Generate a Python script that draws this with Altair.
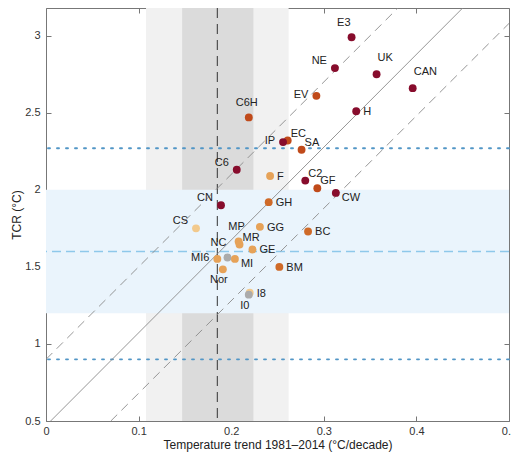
import altair as alt
import pandas as pd

# ---- data ----
names = ["E3", "NE", "UK", "CAN", "EV", "H", "C6H", "EC", "IP", "SA", "C6", "F",
         "C2", "GF", "CW", "CN", "GH", "CS", "GG", "BC", "MP", "MR", "GE", "MI6",
         "NC", "MI", "Nor", "BM", "I8", "I0"]
trend = [0.330, 0.312, 0.357, 0.396, 0.292, 0.335, 0.219, 0.261, 0.256, 0.276, 0.206, 0.242,
         0.280, 0.293, 0.313, 0.189, 0.2405, 0.162, 0.231, 0.283, 0.208, 0.209, 0.223, 0.185,
         0.196, 0.204, 0.191, 0.252, 0.220, 0.219]
tcr = [2.99, 2.79, 2.75, 2.66, 2.61, 2.51, 2.47, 2.32, 2.31, 2.26, 2.13, 2.09,
       2.06, 2.01, 1.98, 1.90, 1.92, 1.75, 1.76, 1.73, 1.665, 1.645, 1.613, 1.552,
       1.561, 1.552, 1.484, 1.50, 1.333, 1.32]
group = ["g1", "g1", "g1", "g1", "g2", "g1", "g2", "g2", "g1", "g2", "g1", "g4",
         "g1", "g2", "g1", "g1", "g3", "g5", "g4", "g3", "g4", "g4", "g4", "g4",
         "g0", "g4", "g4", "g3", "g5", "g0"]
anchor = ["tl", "ul", "tr", "tr", "l", "r", "t", "ur", "l", "ur", "ul", "r",
          "ur", "ur", "rb", "ul", "r", "ul", "r", "r", "t", "ur", "r", "l",
          "tl", "rb", "b", "r", "r", "b"]

group_domain = ["g1", "g2", "g3", "g4", "g5", "g0"]
group_colors = ["#870C2C", "#C04A1A", "#CF6A28", "#E6A258", "#F2C98C", "#ABABAB"]

x_ticks = [0, 0.1, 0.2, 0.3, 0.4, 0.5]
y_ticks = [0.5, 1, 1.5, 2, 2.5, 3]

obs_trend = [0.185]                     # observed trend (vertical dashed)
band_inner = [0.147, 0.224]             # darker grey band
band_outer = [0.108, 0.262]             # lighter grey band
tcr_likely = [1.2, 2.0]                 # blue shaded range
tcr_mid = [1.6]
tcr_dotted = [0.9, 2.27]

# reference lines: (name, dash, x0, y0, x1, y1)
ref_lines = [
    ("upper", "dash", 0.0, 0.90, 0.38, 3.18),
    ("mid", "solid", 0.005, 0.50, 0.45, 3.18),
    ("lower", "dash", 0.07, 0.50, 0.50, 3.08),
]

FONT = "Liberation Sans"
X_DOM = [0, 0.5]
Y_DOM = [0.5, 3.18]

pts = pd.DataFrame({"name": names, "trend": trend, "tcr": tcr,
                    "group": group, "anchor": anchor})

xs = alt.Scale(domain=X_DOM, nice=False, zero=False)
ys = alt.Scale(domain=Y_DOM, nice=False, zero=False)

outer = alt.Chart(pd.DataFrame({"a": [band_outer[0]], "b": [band_outer[1]]})).mark_rect(
    color="#F1F1F1").encode(x=alt.X("a:Q", scale=xs, axis=None), x2="b:Q")
inner = alt.Chart(pd.DataFrame({"a": [band_inner[0]], "b": [band_inner[1]]})).mark_rect(
    color="#DBDBDB").encode(x=alt.X("a:Q", scale=xs, axis=None), x2="b:Q")
blue = alt.Chart(pd.DataFrame({"a": [tcr_likely[0]], "b": [tcr_likely[1]]})).mark_rect(
    color="#EAF4FC").encode(y=alt.Y("a:Q", scale=ys, axis=None), y2="b:Q")
mid = alt.Chart(pd.DataFrame({"v": tcr_mid})).mark_rule(
    color="#8EC8EA", strokeDash=[9, 5], strokeWidth=1.3).encode(
    y=alt.Y("v:Q", scale=ys, axis=None))
dotted = alt.Chart(pd.DataFrame({"v": tcr_dotted})).mark_rule(
    color="#5296C6", strokeDash=[2, 7], strokeWidth=1.9, strokeCap="round").encode(
    y=alt.Y("v:Q", scale=ys, axis=None))
vline = alt.Chart(pd.DataFrame({"v": obs_trend})).mark_rule(
    color="#333333", strokeDash=[10, 6], strokeWidth=1).encode(
    x=alt.X("v:Q", scale=xs, axis=None))

rows = []
for nm, style, x0, y0, x1, y1 in ref_lines:
    rows.append({"line": nm, "style": style, "x": x0, "y": y0, "o": 0})
    rows.append({"line": nm, "style": style, "x": x1, "y": y1, "o": 1})
ldf = pd.DataFrame(rows)

tick_axis_top = alt.Axis(orient="top", offset=-5, tickSize=5, labels=False, domain=False,
                         grid=False, title=None, values=x_ticks, tickColor="#777777")
tick_axis_right = alt.Axis(orient="right", offset=-5, tickSize=5, labels=False, domain=False,
                           grid=False, title=None, values=y_ticks, tickColor="#777777")

dash_lines = alt.Chart(ldf[ldf["style"] == "dash"]).mark_line(
    color="#8A8A8A", strokeWidth=0.9, strokeDash=[9, 6], clip=True).encode(
    x=alt.X("x:Q", scale=xs, axis=tick_axis_top),
    y=alt.Y("y:Q", scale=ys, axis=tick_axis_right),
    detail="line:N", order="o:Q")
solid_line = alt.Chart(ldf[ldf["style"] == "solid"]).mark_line(
    color="#8A8A8A", strokeWidth=0.9, clip=True).encode(
    x=alt.X("x:Q", scale=xs, axis=None),
    y=alt.Y("y:Q", scale=ys, axis=None),
    order="o:Q")

points = alt.Chart(pts).mark_circle(size=62, opacity=1).encode(
    x=alt.X("trend:Q", scale=xs,
            axis=alt.Axis(orient="bottom", offset=-5, tickSize=5, labelPadding=4,
                          values=x_ticks, format=".1~f", domain=False, grid=False,
                          labelFlush=False,
                          tickColor="#777777", labelColor="#333333", labelFont=FONT,
                          labelFontSize=11, title="Temperature trend 1981–2014 (°C/decade)",
                          titleFont=FONT, titleFontSize=12, titleFontWeight="normal",
                          titleColor="#222222", titlePadding=3)),
    y=alt.Y("tcr:Q", scale=ys,
            axis=alt.Axis(orient="left", offset=-5, tickSize=5, labelPadding=6,
                          values=y_ticks, format=".1~f", domain=False, grid=False,
                          labelFlush=False,
                          tickColor="#777777", labelColor="#333333", labelFont=FONT,
                          labelFontSize=11, title="TCR (°C)", titleFont=FONT,
                          titleFontSize=12, titleFontWeight="normal",
                          titleColor="#222222", titlePadding=1)),
    color=alt.Color("group:N", scale=alt.Scale(domain=group_domain, range=group_colors),
                    legend=None),
)

anchors = {
    "tl": dict(align="right", dx=-1, dy=-14),
    "ul": dict(align="right", dx=-8, dy=-7),
    "t": dict(align="center", dx=-2, dy=-14),
    "tr": dict(align="left", dx=1, dy=-16),
    "ur": dict(align="left", dx=3, dy=-7),
    "l": dict(align="right", dx=-8, dy=-1),
    "r": dict(align="left", dx=7, dy=1),
    "rb": dict(align="left", dx=6, dy=5),
    "b": dict(align="center", dx=-4, dy=11),
}
label_layers = []
for key, props in anchors.items():
    label_layers.append(
        alt.Chart(pts).transform_filter(alt.datum.anchor == key).mark_text(
            font=FONT, fontSize=11, color="#222222", baseline="middle", **props).encode(
            x=alt.X("trend:Q", scale=xs, axis=None),
            y=alt.Y("tcr:Q", scale=ys, axis=None),
            text="name:N"))

chart = alt.layer(outer, inner, blue, mid, dotted, vline, dash_lines, solid_line,
                  points, *label_layers).resolve_axis(x="independent", y="independent").properties(
    width=463, height=413,
    autosize=alt.AutoSizeParams(type="none"),
    padding={"left": 38, "top": 0, "right": 2, "bottom": 33},
).configure_view(stroke="#777777", strokeWidth=1)

chart.save("out.html", embed_options={"renderer": "svg", "actions": False})
